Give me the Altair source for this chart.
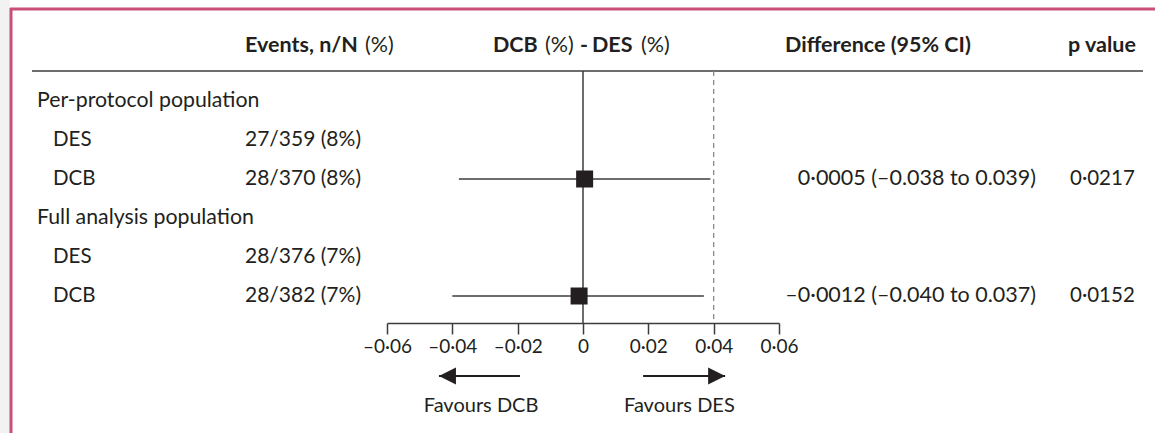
import altair as alt
import pandas as pd

# Table rows (top to bottom)
row_labels = ["Per-protocol population", "DES", "DCB", "Full analysis population", "DES", "DCB"]
row_is_group = [True, False, False, True, False, False]
events = ["", "27/359 (8%)", "28/370 (8%)", "", "28/376 (7%)", "28/382 (7%)"]

# Risk differences (DCB - DES) with 95% CI, on the DCB rows
est_rows = [2, 5]
est_diff = [0.0005, -0.0012]
est_low = [-0.038, -0.040]
est_high = [0.039, 0.037]
est_text = ["0·0005 (–0.038 to 0.039)", "–0·0012 (–0.040 to 0.037)"]
p_text = ["0·0217", "0·0152"]

# Axis, margin line and direction arrows
x_ticks = [-0.06, -0.04, -0.02, 0, 0.02, 0.04, 0.06]
noninferiority_margin = 0.04
arrow_tail = [-0.0193, 0.0184]
arrow_tip = [-0.0441, 0.0435]
arrow_label = ["Favours DCB", "Favours DES"]
arrow_label_x = [-0.0312, 0.0295]

# Column headers, in pieces: bold words with regular "(%)" units
header_text = ["Events, n/N", "(%)", "DCB", "(%)", "-", "DES", "(%)", "Difference (95% CI)", "p value"]
header_bold = [True, False, True, False, True, True, False, True, True]
header_x = [245, 365, 493, 545, 580, 592, 641, 785, 1068]

FONT = "Lato"
INK = "#231f20"
LINE = "#3c3c3c"

xs = alt.Scale(domain=[-0.06, 0.06], range=[387, 779])
ys = alt.Scale(domain=[0, 5], range=[101, 296])

rows = pd.DataFrame({
    "row": list(range(len(row_labels))),
    "label": row_labels,
    "group": row_is_group,
    "events": events,
})
est = pd.DataFrame({
    "row": est_rows, "diff": est_diff, "low": est_low, "high": est_high,
    "text": est_text, "p": p_text,
})
arrows = pd.DataFrame({
    "tail": arrow_tail, "tip": arrow_tip, "label": arrow_label, "lx": arrow_label_x,
    "dir": ["left", "right"],
})
one = pd.DataFrame({"a": [0]})

# page frame
strip = alt.Chart(one).mark_rect(color="#f2f2f2").encode(
    x=alt.value(0), x2=alt.value(10), y=alt.value(0), y2=alt.value(433))
frame_left = alt.Chart(one).mark_rule(color="#c94f78", strokeWidth=3).encode(
    x=alt.value(11), y=alt.value(8), y2=alt.value(433))
frame_top = alt.Chart(one).mark_rule(color="#c94f78", strokeWidth=3).encode(
    x=alt.value(10), x2=alt.value(1155), y=alt.value(9))

# header row
header_layers = []
for txt, bold, hx in zip(header_text, header_bold, header_x):
    header_layers.append(
        alt.Chart(pd.DataFrame({"h": [txt]})).mark_text(
            font=FONT, fontSize=21.5, fontWeight="bold" if bold else "normal",
            color=INK, align="left", baseline="middle",
        ).encode(x=alt.value(hx), y=alt.value(46), text="h:N")
    )
head_rule = alt.Chart(one).mark_rule(color=LINE, strokeWidth=1.5).encode(
    x=alt.value(32), x2=alt.value(1143), y=alt.value(71))

# row labels
lab_group = alt.Chart(rows).transform_filter("datum.group").mark_text(
    font=FONT, fontSize=21.3, color=INK, align="left", baseline="middle"
).encode(x=alt.value(37), y=alt.Y("row:Q", scale=ys, axis=None), text="label:N")
lab_sub = alt.Chart(rows).transform_filter("!datum.group").mark_text(
    font=FONT, fontSize=20.5, color=INK, align="left", baseline="middle"
).encode(x=alt.value(53), y=alt.Y("row:Q", scale=ys, axis=None), text="label:N")
ev = alt.Chart(rows).mark_text(
    font=FONT, fontSize=21, color=INK, align="left", baseline="middle"
).encode(x=alt.value(245), y=alt.Y("row:Q", scale=ys, axis=None), text="events:N")

# reference lines
zero = alt.Chart(one).mark_rule(color=LINE, strokeWidth=1.5).encode(
    x=alt.datum(0.0, scale=xs), y=alt.value(71), y2=alt.value(323))
margin = alt.Chart(one).mark_rule(
    color="#7d8f96", strokeWidth=1.3, strokeDash=[5, 4]).encode(
    x=alt.datum(noninferiority_margin, scale=xs), y=alt.value(71), y2=alt.value(323))

# confidence intervals and point estimates, with the x axis
ci = alt.Chart(est).mark_rule(color=LINE, strokeWidth=1.5).encode(
    x=alt.X("low:Q", scale=xs, axis=alt.Axis(
        values=x_ticks, title=None, grid=False, orient="bottom",
        labelExpr="datum.value == 0 ? '0' : (datum.value < 0 ? '–' : '') + replace(format(abs(datum.value), '.2f'), '.', '·')",
        tickSize=11, tickWidth=1.5, tickColor=LINE, domainColor=LINE, domainWidth=1.5,
        labelFont=FONT, labelFontSize=19, labelColor=INK, labelPadding=3, labelFlush=False,
    )),
    x2="high:Q",
    y=alt.Y("row:Q", scale=ys, axis=None),
)
sq = alt.Chart(est).mark_square(size=289, color=INK, opacity=1, filled=True).encode(
    x=alt.X("diff:Q", scale=xs), y=alt.Y("row:Q", scale=ys, axis=None))
diff_txt = alt.Chart(est).mark_text(
    font=FONT, fontSize=21.5, color=INK, align="right", baseline="middle"
).encode(x=alt.value(1036), y=alt.Y("row:Q", scale=ys, axis=None), text="text:N")
p_txt = alt.Chart(est).mark_text(
    font=FONT, fontSize=20.5, color=INK, align="left", baseline="middle"
).encode(x=alt.value(1070), y=alt.Y("row:Q", scale=ys, axis=None), text="p:N")

# direction arrows
shaft = alt.Chart(arrows).mark_rule(color=INK, strokeWidth=2).encode(
    x=alt.X("tail:Q", scale=xs), x2="tip:Q", y=alt.value(376))
head_l = alt.Chart(arrows).transform_filter("datum.dir == 'left'").mark_point(
    shape="M0,0L2,-1L2,1Z", size=289, filled=True, color=INK, opacity=1, strokeWidth=0
).encode(x=alt.X("tip:Q", scale=xs), y=alt.value(376))
head_r = alt.Chart(arrows).transform_filter("datum.dir == 'right'").mark_point(
    shape="M0,0L-2,-1L-2,1Z", size=289, filled=True, color=INK, opacity=1, strokeWidth=0
).encode(x=alt.X("tip:Q", scale=xs), y=alt.value(376))
fav = alt.Chart(arrows).mark_text(
    font=FONT, fontSize=20, color=INK, align="center", baseline="middle"
).encode(x=alt.X("lx:Q", scale=xs), y=alt.value(406), text="label:N")

chart = alt.layer(
    strip, frame_left, frame_top, *header_layers, head_rule,
    lab_group, lab_sub, ev, zero, margin, ci, sq, diff_txt, p_txt,
    shaft, head_l, head_r, fav,
).properties(
    width=1155, height=323,
    autosize=alt.AutoSizeParams(type="none"),
    padding={"left": 0, "top": 0, "right": 0, "bottom": 110},
    background="white",
).configure_view(strokeWidth=0)

chart.save("out.html", embed_options={"renderer": "svg", "actions": False})
